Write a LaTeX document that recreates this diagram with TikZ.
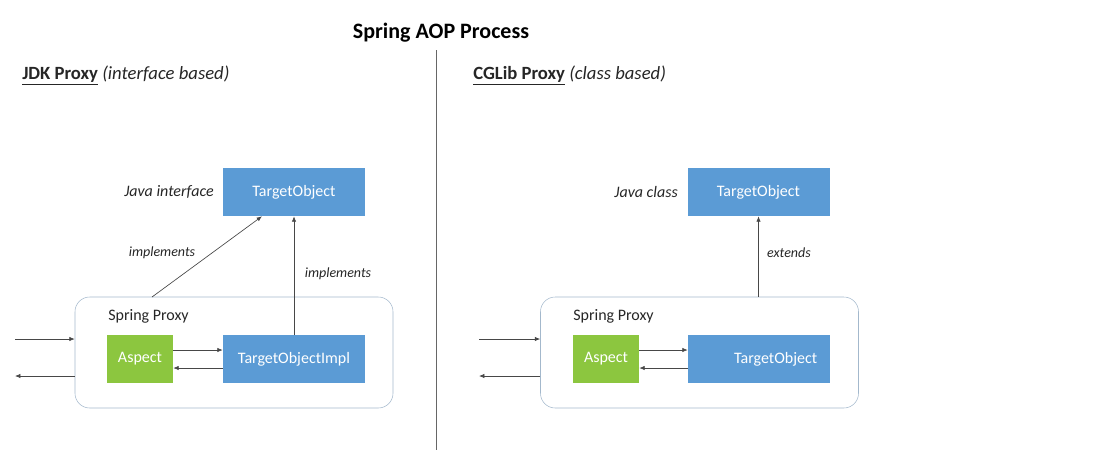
\documentclass[tikz,border=0pt]{standalone}
\usepackage{fontspec}
\setmainfont{Carlito}
\usepackage{tikz}
\usepackage{xcolor}
\usetikzlibrary{arrows.meta}

\definecolor{boxblue}{HTML}{5B9BD5}
\definecolor{aspectgreen}{HTML}{8CC63F}
\definecolor{proxyline}{HTML}{A3B8CC}
\definecolor{ink}{HTML}{262626}

\begin{document}
\begin{tikzpicture}[x=0.75pt,y=-0.75pt,
	bluebox/.style={fill=boxblue,text=white,inner sep=0pt,minimum width=106.5pt,minimum height=36pt,font=\fontsize{12}{14}\selectfont},
	greenbox/.style={fill=aspectgreen,text=white,inner sep=0pt,minimum width=49.5pt,minimum height=36pt,font=\fontsize{12}{14}\selectfont},
	proxybox/.style={draw=proxyline,rounded corners=11pt,minimum width=238.5pt,minimum height=83.25pt},
	arr/.style={draw=ink!85,line width=0.5pt,-{Latex[length=4pt,width=3.2pt]}},
	lbl/.style={text=ink,font=\fontsize{10.5}{12}\selectfont\itshape}]
	\useasboundingbox (0,0) rectangle (1106,458);

	\node[font=\fontsize{16.5}{19}\selectfont\bfseries] (title) at (441,33) {Spring AOP Process};
	\draw[gray!80!black,line width=0.6pt] (436,50) -- (436,450);

	\node[anchor=west,inner sep=0pt,text=ink,font=\fontsize{14}{16}\selectfont] (jdk) at (22,75) {\underline{\textbf{JDK Proxy}} \textit{(interface based)}};
	\node[anchor=west,inner sep=0pt,text=ink,font=\fontsize{14}{16}\selectfont] (cglib) at (473,75) {\underline{\textbf{CGLib Proxy}} \textit{(class based)}};

	\node[bluebox] (ltarget) at (294,192) {TargetObject};
	\node[anchor=east,inner sep=0pt,text=ink,font=\fontsize{12}{14}\selectfont\itshape] (liface) at (214,192) {Java interface};
	\node[proxybox] (lproxy) at (234,352.5) {};
	\node[anchor=west,inner sep=0pt,text=ink,font=\fontsize{12}{14}\selectfont] (lname) at (108,316) {Spring Proxy};
	\node[greenbox] (laspect) at (140,359) {Aspect};
	\node[bluebox] (limpl) at (294,359) {TargetObjectImpl};

	\coordinate (lfoot) at (152,297);
	\draw[arr] (lfoot) -- ([xshift=-24pt]ltarget.south);
	\draw[arr] (limpl.north) -- (ltarget.south);
	\node[lbl] (limp1) at (162,253) {implements};
	\node[lbl] (limp2) at (338,274) {implements};

	\draw[arr] (laspect.east |- 0,350) -- (limpl.west |- 0,350);
	\draw[arr] (limpl.west |- 0,368) -- (laspect.east |- 0,368);
	\coordinate (lin) at (15,339);
	\coordinate (lout) at (15,376);
	\draw[arr] (lin) -- (lin -| lproxy.west);
	\draw[arr] (lout -| lproxy.west) -- (lout);

	\node[bluebox] (rtarget) at (758.5,192) {TargetObject};
	\node[anchor=east,inner sep=0pt,text=ink,font=\fontsize{12}{14}\selectfont\itshape] (rclass) at (678,192) {Java class};
	\node[proxybox] (rproxy) at (699.5,352.5) {};
	\node[anchor=west,inner sep=0pt,text=ink,font=\fontsize{12}{14}\selectfont] (rname) at (573,316) {Spring Proxy};
	\node[greenbox] (raspect) at (606,359) {Aspect};
	\node[bluebox] (rsub) at (759,359) {\hspace*{25pt}TargetObject};

	\draw[arr] (rproxy.north -| rtarget.south) -- (rtarget.south);
	\node[lbl] (rext) at (789,253) {extends};

	\draw[arr] (raspect.east |- 0,350) -- (rsub.west |- 0,350);
	\draw[arr] (rsub.west |- 0,368) -- (raspect.east |- 0,368);
	\coordinate (rin) at (479,339);
	\coordinate (rout) at (479,376);
	\draw[arr] (rin) -- (rin -| rproxy.west);
	\draw[arr] (rout -| rproxy.west) -- (rout);
\end{tikzpicture}
\end{document}
